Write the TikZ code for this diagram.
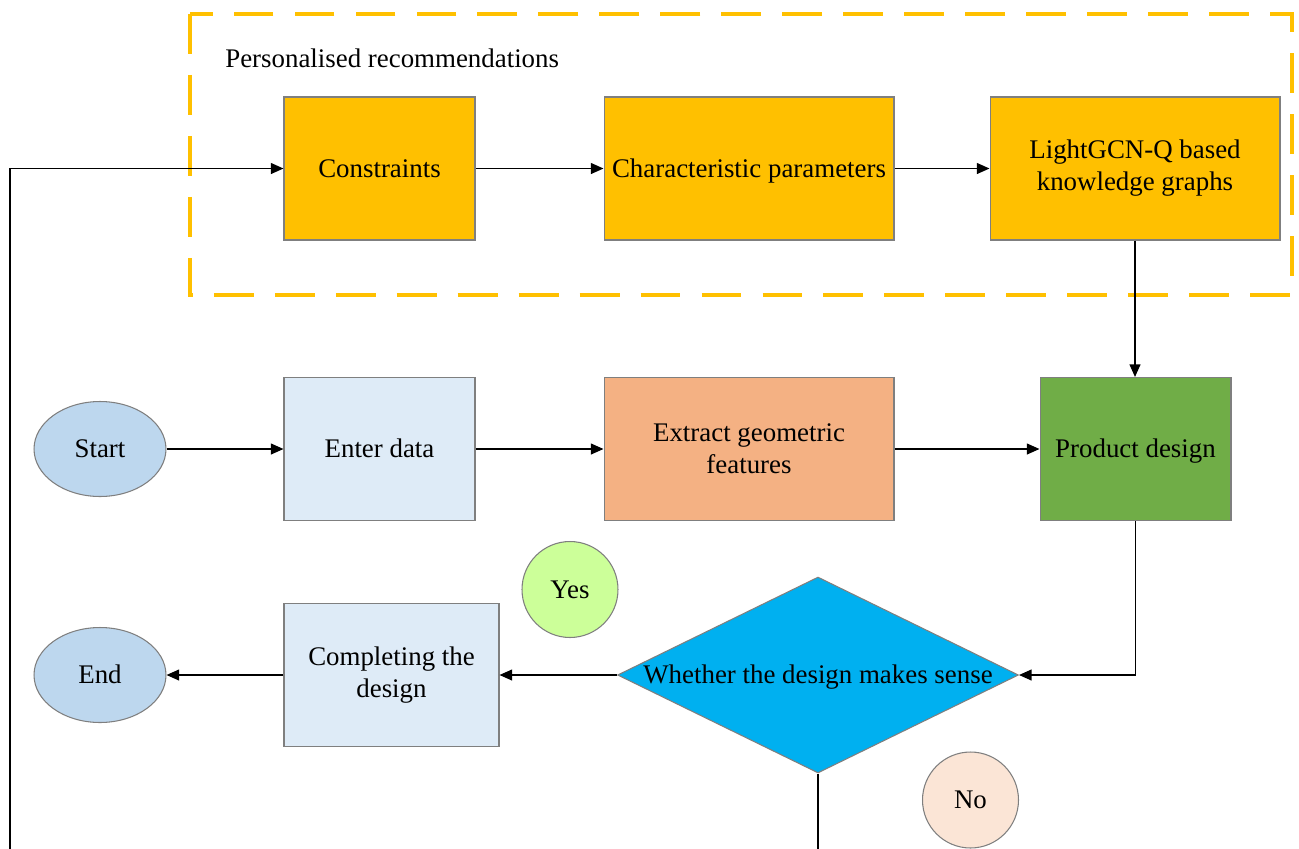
\documentclass[tikz,border=0pt]{standalone}
\usepackage{fontspec}
\setmainfont{Liberation Serif}
\usetikzlibrary{arrows.meta,shapes.geometric}

\definecolor{gold}{HTML}{FFC000}
\definecolor{paleblue}{HTML}{DEEBF7}
\definecolor{ovalblue}{HTML}{BDD7EE}
\definecolor{salmon}{HTML}{F4B183}
\definecolor{leafgreen}{HTML}{70AD47}
\definecolor{skyblue}{HTML}{00B0F0}
\definecolor{limegreen}{HTML}{CCFF99}
\definecolor{peach}{HTML}{FBE5D6}
\definecolor{edgegray}{HTML}{7F7F7F}

\tikzset{
  every node/.style={font=\fontsize{15.3}{18.2}\selectfont, align=center},
  oneline/.style={text height=10.2pt, text depth=0pt},
  procbox/.style={draw=edgegray, line width=0.6pt, rectangle, inner sep=2pt},
  wide/.style={procbox, minimum width=5.8cm, minimum height=2.86cm},
  narrow/.style={procbox, minimum width=3.82cm, minimum height=2.86cm},
  terminal/.style={draw=edgegray, line width=0.6pt, ellipse, fill=ovalblue,
    inner sep=0pt, minimum width=2.64cm, minimum height=1.9cm, oneline},
  tag/.style={draw=edgegray, line width=0.6pt, circle, inner sep=0pt,
    minimum size=1.92cm, oneline},
  decision/.style={draw=edgegray, line width=0.6pt, diamond, fill=skyblue,
    inner sep=0pt, minimum width=8.02cm, minimum height=3.92cm, oneline},
  flow/.style={draw=black, line width=0.85pt,
    -{Triangle[length=7.2pt, width=6.2pt]}},
  plain/.style={draw=black, line width=0.85pt},
  groupframe/.style={draw=gold, line width=2.3pt,
    dash pattern=on 22.7pt off 12pt}
}

\begin{document}
\begin{tikzpicture}[x=0.02cm, y=-0.02cm]
  \useasboundingbox (0,0) rectangle (1299,849);

  % personalised recommendation group
  \draw[groupframe] (190,14) rectangle (1292,295);
  \node[anchor=base west, inner sep=0pt] (grouplabel) at (225,67) {Personalised recommendations};

  \node[narrow, fill=gold, oneline] (cons) at (379.5,168.5) {Constraints};
  \node[wide, fill=gold, oneline] (chars) at (749,168.5) {Characteristic parameters};
  \node[wide, fill=gold] (light) at (1135,168.5) {LightGCN-Q based\\knowledge graphs};

  % main flow
  \node[terminal] (start) at (100,449) {Start};
  \node[narrow, fill=paleblue, oneline] (enter) at (379.5,449) {Enter data};
  \node[wide, fill=salmon] (extract) at (749,449) {Extract geometric\\features};
  \node[narrow, fill=leafgreen, oneline] (prod) at (1135.5,449) {Product design};

  \node[decision] (dec) at (818,675)
        {\makebox[0pt][c]{Whether the design makes sense}};
  \node[procbox, fill=paleblue, minimum width=4.3cm, minimum height=2.86cm]
        (done) at (391.5,675) {Completing the\\design};
  \node[terminal] (end) at (100,675) {End};

  \node[tag, fill=limegreen] (yes) at (570,589.5) {Yes};
  \node[tag, fill=peach] (no) at (970.5,800) {No};

  % loose ends running off the lower edge
  \coordinate (loopfoot) at (10,849);
  \coordinate (decfoot) at (818,849);

  % connectors
  \draw[flow] (cons) -- (chars);
  \draw[flow] (chars) -- (light);
  \draw[flow] (light.south) -- (light.south |- prod.north);
  \draw[flow] (start) -- (enter);
  \draw[flow] (enter) -- (extract);
  \draw[flow] (extract) -- (prod);
  \draw[flow] (prod.south) |- (dec.east);
  \draw[flow] (dec.west) -- (done.east);
  \draw[flow] (done.west) -- (end.east);
  \draw[plain] (dec.south) -- (decfoot);
  \draw[flow] (loopfoot) |- (cons.west);
\end{tikzpicture}
\end{document}
